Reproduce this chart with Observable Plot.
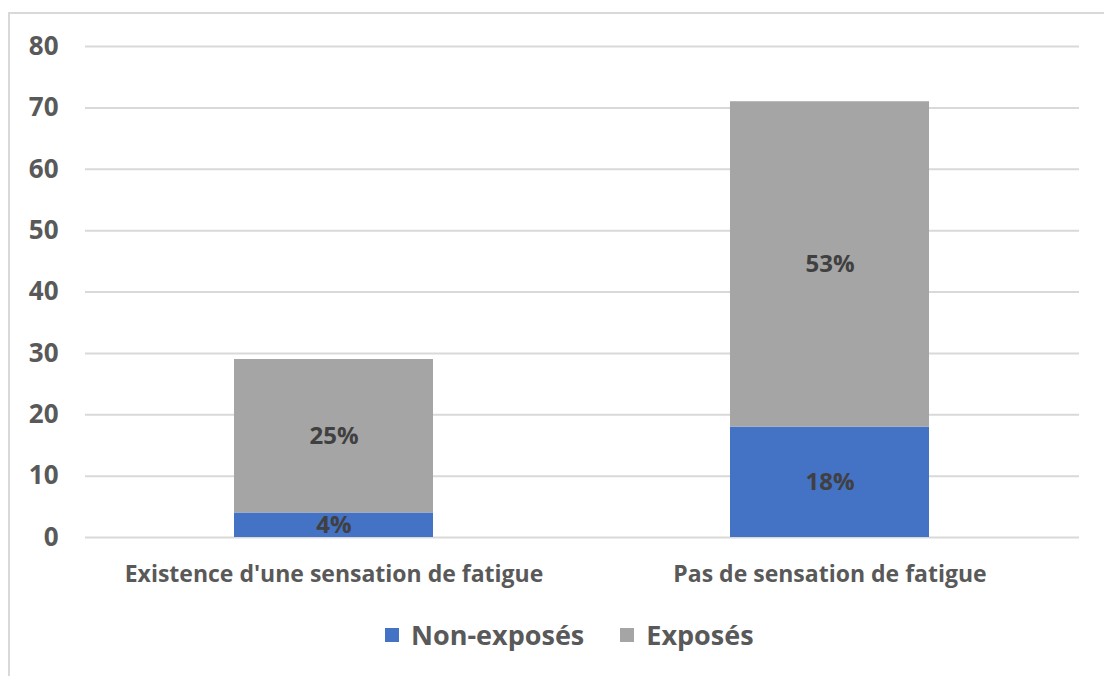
<!DOCTYPE html>
<html>
<head>
<meta charset="utf-8">
<script src="https://cdn.jsdelivr.net/npm/d3@7"></script>
<script src="https://cdn.jsdelivr.net/npm/@observablehq/plot@0.6"></script>
<style>
  html, body { margin: 0; padding: 0; background: #fff; }
  body { width: 1104px; height: 676px; position: relative; overflow: hidden; font-family: "Open Sans", sans-serif; }
  #frame { position: absolute; left: 8px; top: 12px; width: 1200px; height: 800px; border-top: 2px solid #d9d9d9; border-left: 2px solid #d9d9d9; }
  #chart { position: absolute; left: 0; top: 0; }
  #legend { position: absolute; left: 385px; top: 616px; display: flex; align-items: center; font-weight: 700; font-size: 27px; color: #595959; }
  .sw { display: inline-block; width: 14px; height: 14px; margin-right: 12px; }
  .item { display: flex; align-items: center; margin-right: 36px; }
</style>
</head>
<body>
<div id="frame"></div>
<div id="chart"></div>
<div id="legend"></div>
<script>
const categories = ["Existence d'une sensation de fatigue", "Pas de sensation de fatigue"];
const series = ["Non-exposés", "Exposés"];
const nonExposes = [4, 18];
const exposes = [25, 53];
const colors = ["#4472C4", "#A5A5A5"];
const yTicks = [0, 10, 20, 30, 40, 50, 60, 70, 80];

const data = [];
categories.forEach((c, i) => {
  data.push({cat: c, serie: series[0], value: nonExposes[i]});
  data.push({cat: c, serie: series[1], value: exposes[i]});
});

const chart = Plot.plot({
  width: 1104,
  height: 600,
  marginLeft: 85,
  marginRight: 25,
  marginTop: 46,
  marginBottom: 63,
  style: {fontFamily: "Open Sans, sans-serif", fontWeight: 700, background: "transparent"},
  x: {domain: categories, paddingInner: 0.598, paddingOuter: 0.3, label: null},
  y: {domain: [0, 80], label: null},
  color: {domain: series, range: colors},
  marks: [
    Plot.ruleY(yTicks, {stroke: "#d9d9d9", strokeWidth: 2}),
    Plot.barY(data, Plot.stackY({x: "cat", y: "value", fill: "serie", order: series})),
    Plot.text(data, Plot.stackY({x: "cat", y: "value", z: "serie", order: series, text: d => d.value + "%", fill: "#404040", fontSize: 24, fontWeight: 700})),
    Plot.axisY({ticks: yTicks, tickSize: 0, tickPadding: 27, fontSize: 26, fill: "#595959", label: null}),
    Plot.axisX({tickSize: 0, tickPadding: 28, fontSize: 23, fill: "#595959", label: null})
  ]
});
document.getElementById("chart").appendChild(chart);

const legend = document.getElementById("legend");
series.forEach((s, i) => {
  const item = document.createElement("div");
  item.className = "item";
  const sw = document.createElement("span");
  sw.className = "sw";
  sw.style.background = colors[i];
  item.appendChild(sw);
  item.appendChild(document.createTextNode(s));
  legend.appendChild(item);
});
</script>
</body>
</html>
